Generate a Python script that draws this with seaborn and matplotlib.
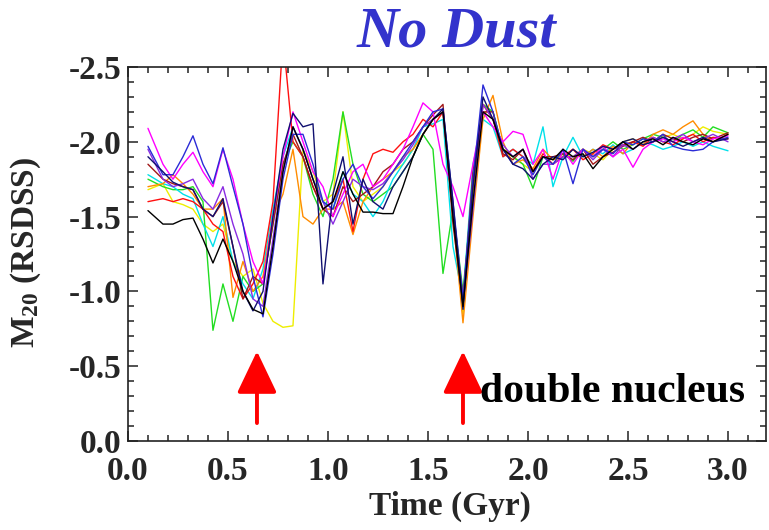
import matplotlib
matplotlib.use("Agg")
import matplotlib.pyplot as plt
from matplotlib.ticker import MultipleLocator, FormatStrFormatter
import pandas as pd
import seaborn as sns

# Snapshot times (Gyr)
TIME = [0.10, 0.175, 0.225, 0.275, 0.325, 0.375, 0.425, 0.475, 0.525, 0.575,
        0.625, 0.675, 0.725, 0.775, 0.825, 0.875, 0.925, 0.975, 1.025, 1.075,
        1.125, 1.175, 1.225, 1.275, 1.325, 1.375, 1.425, 1.475, 1.525, 1.575,
        1.625, 1.675, 1.725, 1.775, 1.825, 1.875, 1.925, 1.975, 2.025, 2.075,
        2.125, 2.175, 2.225, 2.275, 2.325, 2.375, 2.425, 2.475, 2.525, 2.575,
        2.625, 2.675, 2.725, 2.775, 2.825, 2.875, 2.925, 3.00]

# M20 for each viewing angle
VIEW_YELLOW = [-1.68, -1.72, -1.60, -1.58, -1.55, -1.45, -1.40, -1.45, -1.20, -1.10,
               -1.15, -0.92, -0.80, -0.76, -0.77, -1.95, -1.80, -1.60, -1.65, -2.20,
               -1.70, -1.60, -1.65, -1.70, -1.80, -1.85, -1.95, -2.05, -2.15, -2.20,
               -1.55, -0.85, -1.65, -2.25, -2.20, -1.95, -1.90, -1.85, -1.80, -1.90,
               -1.85, -1.92, -1.90, -1.95, -1.92, -1.88, -1.95, -2.00, -2.02, -1.98,
               -2.00, -2.03, -2.05, -2.02, -2.05, -2.10, -2.07, -2.05]
VIEW_GREEN = [-1.75, -1.70, -1.68, -1.68, -1.70, -1.60, -0.74, -1.05, -0.80, -1.10,
              -1.00, -1.05, -1.45, -1.85, -2.00, -1.90, -1.65, -1.50, -1.75, -2.20,
              -1.85, -1.65, -1.60, -1.65, -1.70, -1.80, -1.90, -2.05, -1.95, -1.12,
              -1.55, -1.00, -1.70, -2.25, -2.20, -1.95, -1.90, -1.85, -1.69, -1.90,
              -1.88, -1.92, -1.87, -1.95, -1.90, -1.95, -2.00, -1.95, -1.98, -2.02,
              -2.05, -2.03, -2.00, -2.05, -2.08, -2.03, -2.10, -2.06]
VIEW_CYAN = [-1.78, -1.72, -1.70, -1.65, -1.62, -1.45, -1.30, -1.50, -1.20, -1.05,
             -0.95, -1.15, -1.55, -1.90, -2.10, -1.95, -1.75, -1.60, -1.55, -1.80,
             -1.65, -1.60, -1.50, -1.60, -1.75, -1.85, -1.95, -2.10, -2.12, -2.15,
             -1.30, -0.95, -1.85, -2.15, -2.10, -1.90, -1.95, -1.90, -1.85, -2.10,
             -1.70, -1.90, -2.03, -1.90, -1.95, -1.92, -1.98, -1.92, -1.95, -2.00,
             -1.98, -1.95, -1.97, -2.00, -1.97, -2.00, -1.97, -1.94]
VIEW_ORANGE = [-1.70, -1.72, -1.78, -1.72, -1.65, -1.55, -1.55, -1.62, -0.96, -1.20,
               -1.00, -1.10, -1.50, -1.65, -1.95, -1.50, -1.45, -1.55, -1.55, -1.60,
               -1.38, -1.60, -1.70, -1.75, -1.80, -1.90, -1.95, -2.05, -2.15, -2.20,
               -1.50, -0.79, -1.50, -2.15, -2.31, -2.00, -1.85, -1.88, -1.82, -1.95,
               -1.88, -1.90, -1.95, -1.90, -1.95, -1.90, -1.97, -1.92, -2.00, -1.98,
               -2.05, -2.08, -2.05, -2.10, -2.14, -2.05, -2.00, -2.05]
VIEW_RED = [-1.60, -1.62, -1.60, -1.62, -1.60, -1.55, -1.45, -1.40, -1.10, -0.95,
            -1.05, -1.20, -1.60, -2.70, -2.00, -1.90, -1.70, -1.55, -1.60, -1.75,
            -1.40, -1.75, -1.92, -1.95, -1.93, -2.00, -2.05, -2.15, -2.10, -2.20,
            -1.55, -0.95, -1.70, -2.25, -2.15, -1.90, -1.95, -1.90, -1.80, -1.92,
            -1.85, -1.90, -1.95, -1.88, -1.92, -1.98, -1.95, -1.98, -2.00, -1.97,
            -2.03, -2.00, -1.98, -2.02, -2.05, -2.00, -2.03, -2.02]
VIEW_DARKRED = [-1.85, -1.75, -1.72, -1.70, -1.68, -1.55, -1.50, -1.60, -1.30, -0.95,
                -1.10, -1.05, -1.45, -1.85, -2.05, -1.90, -1.70, -1.55, -1.50, -1.70,
                -1.60, -1.65, -1.70, -1.80, -1.85, -1.95, -2.00, -2.10, -2.18, -2.25,
                -1.45, -0.92, -1.80, -2.20, -2.20, -1.92, -1.88, -1.95, -1.80, -1.90,
                -1.90, -1.92, -1.88, -1.95, -1.85, -1.90, -1.93, -1.97, -2.00, -2.03,
                -2.00, -2.05, -2.02, -2.00, -2.03, -2.05, -2.02, -2.06]
VIEW_VIOLET = [-1.95, -1.75, -1.70, -1.72, -1.75, -1.62, -1.55, -1.70, -1.45, -1.25,
               -0.95, -0.90, -1.35, -1.80, -2.10, -1.95, -1.75, -1.60, -1.45, -1.60,
               -1.75, -1.70, -1.68, -1.72, -1.80, -1.88, -1.98, -2.10, -2.15, -2.20,
               -1.55, -0.90, -1.55, -2.25, -2.15, -1.98, -1.90, -1.95, -1.75, -1.85,
               -1.85, -1.90, -1.90, -1.95, -1.88, -1.95, -1.90, -1.98, -1.95, -2.00,
               -2.03, -2.00, -2.02, -2.05, -2.00, -2.02, -2.05, -2.00]
VIEW_MAGENTA = [-2.09, -1.85, -1.75, -1.85, -1.93, -1.80, -1.70, -1.95, -1.75, -1.45,
                -1.20, -1.05, -1.50, -1.90, -2.20, -2.00, -1.80, -1.70, -1.50, -1.65,
                -1.80, -1.85, -1.70, -1.75, -1.85, -1.95, -2.10, -2.26, -2.20, -1.85,
                -1.70, -1.50, -1.85, -2.20, -2.10, -2.00, -2.07, -2.05, -1.85, -1.95,
                -1.75, -1.95, -1.85, -1.95, -1.90, -1.97, -1.90, -1.95, -1.83, -1.95,
                -2.00, -2.02, -2.00, -2.03, -2.00, -1.98, -2.02, -2.04]
VIEW_BLUE = [-1.97, -1.78, -1.78, -1.90, -2.04, -1.85, -1.72, -1.96, -1.70, -1.45,
             -1.10, -0.83, -1.25, -1.75, -2.05, -2.05, -1.85, -1.60, -1.55, -1.75,
             -1.85, -1.70, -1.62, -1.70, -1.80, -1.90, -2.00, -2.10, -2.20, -2.22,
             -1.60, -0.95, -1.75, -2.38, -2.20, -1.95, -1.85, -1.90, -1.78, -1.90,
             -1.85, -1.95, -1.72, -1.95, -1.90, -1.95, -1.92, -2.00, -1.98, -2.02,
             -2.00, -2.05, -1.97, -1.95, -1.94, -1.95, -2.00, -2.03]
VIEW_NAVY = [-1.90, -1.80, -1.73, -1.70, -1.68, -1.55, -1.50, -1.62, -1.30, -1.00,
             -0.87, -1.00, -1.50, -1.95, -2.19, -2.10, -2.12, -1.05, -1.65, -1.90,
             -1.45, -1.75, -1.60, -1.55, -1.70, -1.80, -1.90, -2.05, -2.15, -2.22,
             -1.60, -0.88, -1.70, -2.30, -2.15, -1.95, -1.85, -1.82, -1.75, -1.85,
             -1.90, -1.88, -1.95, -1.90, -1.93, -1.97, -1.95, -2.00, -2.02, -1.98,
             -2.00, -2.03, -2.00, -1.97, -2.00, -2.03, -2.00, -2.02]
VIEW_BLACK = [-1.54, -1.45, -1.45, -1.48, -1.49, -1.35, -1.19, -1.35, -1.20, -1.00,
              -0.88, -0.85, -1.30, -1.80, -2.10, -1.95, -1.75, -1.55, -1.60, -1.80,
              -1.65, -1.53, -1.53, -1.52, -1.52, -1.70, -1.90, -2.05, -2.15, -2.20,
              -1.50, -0.90, -1.60, -2.20, -2.15, -1.95, -1.90, -1.95, -1.80, -1.90,
              -1.88, -1.95, -1.90, -1.92, -1.82, -1.90, -1.95, -2.00, -1.95, -2.00,
              -2.02, -1.98, -2.03, -2.00, -1.98, -2.02, -2.00, -2.05]

VIEWS = {
    "yellow": VIEW_YELLOW, "green": VIEW_GREEN, "cyan": VIEW_CYAN,
    "orange": VIEW_ORANGE, "red": VIEW_RED, "darkred": VIEW_DARKRED,
    "violet": VIEW_VIOLET, "magenta": VIEW_MAGENTA, "blue": VIEW_BLUE,
    "navy": VIEW_NAVY, "black": VIEW_BLACK,
}
COLORS = {
    "yellow": "#eeee00", "green": "#22dd22", "cyan": "#00e0ea",
    "orange": "#ff8c00", "red": "#ff1010", "darkred": "#a01818",
    "violet": "#8a2be2", "magenta": "#ff00ff", "blue": "#2b2bd6",
    "navy": "#101070", "black": "#000000",
}

ARROW_TIMES = [0.645, 1.675]

rows = []
for name, vals in VIEWS.items():
    if len(vals) != len(TIME):
        raise ValueError(name)
    for t, v in zip(TIME, vals):
        rows.append({"time": t, "m20": v, "view": name})
df = pd.DataFrame(rows)

sns.set_style("ticks")
plt.rcParams["font.family"] = ["Liberation Serif", "DejaVu Serif"]
plt.rcParams["font.weight"] = "bold"
plt.rcParams["axes.unicode_minus"] = False
plt.rcParams["mathtext.fontset"] = "custom"
plt.rcParams["mathtext.rm"] = "Liberation Serif:bold"
plt.rcParams["mathtext.default"] = "regular"

fig = plt.figure(figsize=(7.69, 5.30), dpi=100)
ax = fig.add_axes([0.1664, 0.1679, 0.8297, 0.7057])

sns.lineplot(data=df, x="time", y="m20", hue="view", hue_order=list(VIEWS),
             palette=COLORS, estimator=None, sort=False, legend=False,
             linewidth=1.0, ax=ax)

ax.set_xlim(0.0, 3.19)
ax.set_ylim(0.0, -2.5)
ax.xaxis.set_major_locator(MultipleLocator(0.5))
ax.xaxis.set_minor_locator(MultipleLocator(0.1))
ax.yaxis.set_major_locator(MultipleLocator(0.5))
ax.yaxis.set_minor_locator(MultipleLocator(0.1))
ax.xaxis.set_major_formatter(FormatStrFormatter("%.1f"))
ax.yaxis.set_major_formatter(FormatStrFormatter("%.1f"))

ax.tick_params(which="both", direction="in", top=True, right=True,
               color="#222222", width=1.1)
ax.tick_params(which="major", length=7)
ax.tick_params(which="minor", length=4.5)
ax.tick_params(axis="x", which="major", pad=11, labelsize=24)
ax.tick_params(axis="y", which="major", pad=5, labelsize=24)
for lab in ax.get_xticklabels() + ax.get_yticklabels():
    lab.set_fontweight("bold")
for sp in ax.spines.values():
    sp.set_linewidth(1.2)
    sp.set_color("#222222")

ax.set_xlabel("Time (Gyr)", fontsize=24, fontweight="bold", va="center")
ax.xaxis.set_label_coords(0.505, -0.176)
ax.set_ylabel(r"M$_{20}$ (RSDSS)", fontsize=24, fontweight="bold", va="center")
ax.yaxis.set_label_coords(-0.16, 0.505)

fig.text(0.594, 0.938, "No Dust", color="#3333cc", fontsize=42,
         fontweight="bold", fontstyle="italic", ha="center", va="center")

for t in ARROW_TIMES:
    ax.annotate("", xy=(t, -0.60), xytext=(t, -0.12),
                arrowprops=dict(arrowstyle="-|>,head_length=1.3,head_width=0.62",
                                mutation_scale=20, color="red", lw=2.8,
                                shrinkA=0, shrinkB=0))

ax.text(1.76, -0.33, "double nucleus", fontsize=30, fontweight="bold",
        ha="left", va="center", color="black")

fig.savefig("out.png", dpi=100)
